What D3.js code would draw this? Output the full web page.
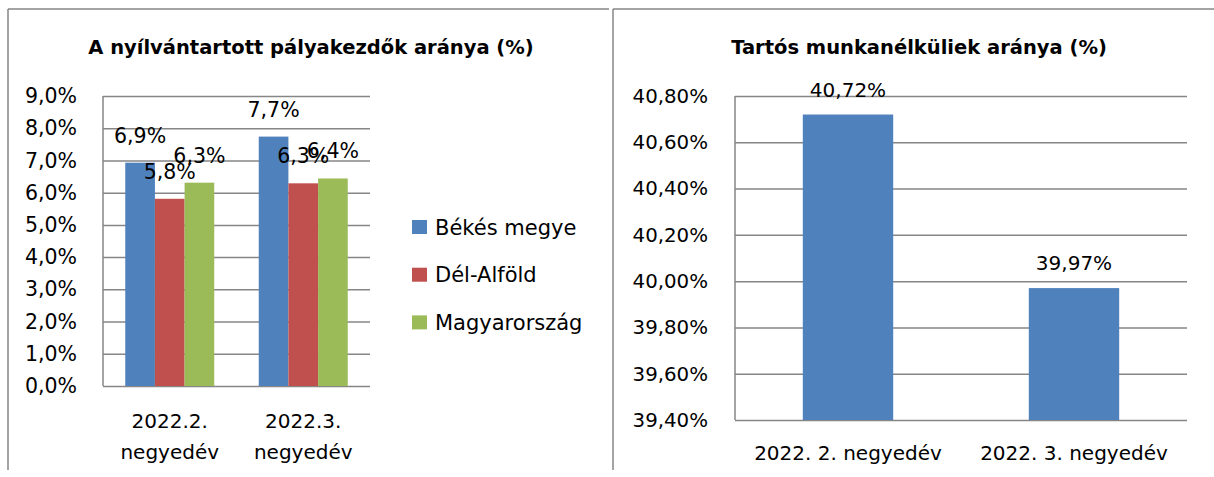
<!DOCTYPE html>
<html>
<head>
<meta charset="utf-8">
<script src="https://cdn.jsdelivr.net/npm/d3@7"></script>
<style>
    body { margin: 0; background: #fff; }
    svg { display: block; font-family: "DejaVu Sans", sans-serif; }
    .grid line { stroke: #868686; stroke-width: 1.5; }
    .grid path { display: none; }
</style>
</head>
<body>
<div id="chart"></div>
<script>

// Left chart data
var leftTitle = "A nyílvántartott pályakezdők aránya (%)";
var leftCategories = [["2022.2.", "negyedév"], ["2022.3.", "negyedév"]];
var leftSeries = ["Békés megye", "Dél-Alföld", "Magyarország"];
var bekesValues = [6.93, 7.74];
var delAlfoldValues = [5.81, 6.29];
var magyarValues = [6.31, 6.44];
var leftTicks = [0, 1, 2, 3, 4, 5, 6, 7, 8, 9];

// Right chart data
var rightTitle = "Tartós munkanélküliek aránya (%)";
var rightCategories = ["2022. 2. negyedév", "2022. 3. negyedév"];
var rightValues = [40.72, 39.97];
var rightTicks = [39.4, 39.6, 39.8, 40.0, 40.2, 40.4, 40.6, 40.8];

var colors = ["#4F81BD", "#C0504D", "#9BBB59"];

var huLocale = d3.formatLocale({decimal: ",", thousands: " ", grouping: [3], currency: ["", " Ft"]});
var fmt1 = huLocale.format(".1f");
var fmt2 = huLocale.format(".2f");

var width = 1214, height = 477;

var svg = d3.select("#chart").append("svg")
    .attr("width", width)
    .attr("height", height);

// Chart frames (only top and left edges are visible in the crop)
function frame(x0, x1) {
    svg.append("line")
        .attr("x1", x0).attr("x2", x1).attr("y1", 9).attr("y2", 9)
        .attr("stroke", "#868686").attr("stroke-width", 1.5);
    svg.append("line")
        .attr("x1", x0).attr("x2", x0).attr("y1", 9).attr("y2", 470)
        .attr("stroke", "#868686").attr("stroke-width", 1.5);
}
frame(8, 609);
frame(613, 1214);

// ---------------- Left chart ----------------
var L = {left: 103, right: 370, top: 96, bottom: 386};

svg.append("text")
    .attr("x", 311).attr("y", 54)
    .attr("text-anchor", "middle")
    .attr("font-size", "19.5px").attr("font-weight", "bold")
    .text(leftTitle);

var yL = d3.scaleLinear().domain([0, 9]).range([L.bottom, L.top]);
// gap width 150% => bars take 3/4.5 of each category slot
var x0L = d3.scaleBand().domain(d3.range(leftCategories.length))
    .range([L.left, L.right]).paddingInner(1.5 / 4.5).paddingOuter(0.75 / 4.5);
var x1L = d3.scaleBand().domain(d3.range(leftSeries.length)).range([0, x0L.bandwidth()]);

svg.append("g")
    .attr("class", "grid")
    .attr("transform", "translate(" + L.left + ",0)")
    .call(d3.axisLeft(yL).tickValues(leftTicks).tickSize(-(L.right - L.left)).tickPadding(26)
        .tickFormat(function(d) { return fmt1(d) + "%"; }))
    .call(function(g) {
        g.selectAll("text")
            .attr("font-family", "DejaVu Sans")
            .attr("font-size", "20.5px")
            .attr("fill", "#000");
    });

svg.append("line")
    .attr("x1", L.left).attr("x2", L.left).attr("y1", L.top).attr("y2", L.bottom)
    .attr("stroke", "#868686").attr("stroke-width", 1.5);

var leftData = [bekesValues, delAlfoldValues, magyarValues];

leftData.forEach(function(values, s) {
    svg.append("g").selectAll("rect")
        .data(values)
        .join("rect")
        .attr("x", function(d, i) { return x0L(i) + x1L(s); })
        .attr("y", function(d) { return yL(d); })
        .attr("width", x1L.bandwidth())
        .attr("height", function(d) { return yL(0) - yL(d); })
        .attr("fill", colors[s]);
});

leftData.forEach(function(values, s) {
    svg.append("g").selectAll("text")
        .data(values)
        .join("text")
        .attr("x", function(d, i) { return x0L(i) + x1L(s) + x1L.bandwidth() / 2; })
        .attr("y", function(d) { return yL(d) - 20; })
        .attr("text-anchor", "middle")
        .attr("font-size", "20.5px")
        .text(function(d) { return fmt1(d) + "%"; });
});

svg.append("g").selectAll("text")
    .data(leftCategories)
    .join("text")
    .attr("x", function(d, i) { return x0L(i) + x0L.bandwidth() / 2; })
    .attr("y", 428)
    .attr("text-anchor", "middle")
    .attr("font-size", "20px")
    .each(function(d) {
        var t = d3.select(this);
        t.append("tspan").attr("x", t.attr("x")).text(d[0]);
        t.append("tspan").attr("x", t.attr("x")).attr("dy", 31).text(d[1]);
    });

// legend
var legend = svg.append("g").selectAll("g")
    .data(leftSeries)
    .join("g")
    .attr("transform", function(d, i) { return "translate(412," + (227 + i * 47.7) + ")"; });
legend.append("rect")
    .attr("x", 0).attr("y", -7).attr("width", 15).attr("height", 14)
    .attr("fill", function(d, i) { return colors[i]; });
legend.append("text")
    .attr("x", 23).attr("y", 7.5)
    .attr("font-size", "21px")
    .text(function(d) { return d; });

// ---------------- Right chart ----------------
var R = {left: 735, right: 1187, top: 96, bottom: 420};

svg.append("text")
    .attr("x", 919).attr("y", 54)
    .attr("text-anchor", "middle")
    .attr("font-size", "19.5px").attr("font-weight", "bold")
    .text(rightTitle);

var yR = d3.scaleLinear().domain([39.4, 40.8]).range([R.bottom, R.top]);
var xR = d3.scaleBand().domain(d3.range(rightCategories.length))
    .range([R.left, R.right]).paddingInner(1.5 / 2.5).paddingOuter(0.75 / 2.5);

svg.append("g")
    .attr("class", "grid")
    .attr("transform", "translate(" + R.left + ",0)")
    .call(d3.axisLeft(yR).tickValues(rightTicks).tickSize(-(R.right - R.left)).tickPadding(27)
        .tickFormat(function(d) { return fmt2(d) + "%"; }))
    .call(function(g) {
        g.selectAll("text")
            .attr("font-family", "DejaVu Sans")
            .attr("font-size", "19.8px")
            .attr("fill", "#000");
    });

svg.append("line")
    .attr("x1", R.left).attr("x2", R.left).attr("y1", R.top).attr("y2", R.bottom)
    .attr("stroke", "#868686").attr("stroke-width", 1.5);

svg.append("g").selectAll("rect")
    .data(rightValues)
    .join("rect")
    .attr("x", function(d, i) { return xR(i); })
    .attr("y", function(d) { return yR(d); })
    .attr("width", xR.bandwidth())
    .attr("height", function(d) { return yR(39.4) - yR(d); })
    .attr("fill", colors[0]);

svg.append("g").selectAll("text")
    .data(rightValues)
    .join("text")
    .attr("x", function(d, i) { return xR(i) + xR.bandwidth() / 2; })
    .attr("y", function(d) { return yR(d) - 18; })
    .attr("text-anchor", "middle")
    .attr("font-size", "20px")
    .text(function(d) { return fmt2(d) + "%"; });

svg.append("g").selectAll("text")
    .data(rightCategories)
    .join("text")
    .attr("x", function(d, i) { return xR(i) + xR.bandwidth() / 2; })
    .attr("y", 460)
    .attr("text-anchor", "middle")
    .attr("font-size", "20px")
    .text(function(d) { return d; });

</script>
</body>
</html>
